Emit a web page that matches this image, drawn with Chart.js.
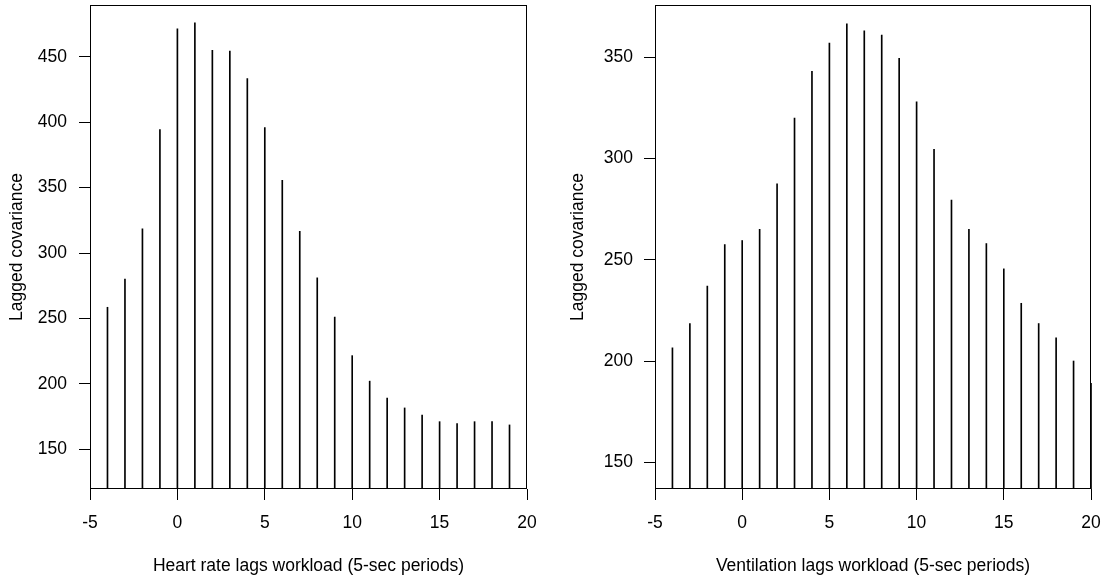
<!DOCTYPE html>
<html>
<head>
<meta charset="utf-8">
<script src="https://cdn.jsdelivr.net/npm/chart.js@4"></script>
<style>
  html, body { margin: 0; padding: 0; background: #fff; }
  .panel { position: absolute; top: 0; }
</style>
</head>
<body>
<div class="panel" style="left:0"><canvas id="graficoHR" width="556" height="584"></canvas></div>
<div class="panel" style="left:556px"><canvas id="graficoVent" width="557" height="584"></canvas></div>
<script>
// lags (5-sec periods) and lagged covariances
const lagsHR = [-4, -3, -2, -1, 0, 1, 2, 3, 4, 5, 6, 7, 8, 9, 10, 11, 12, 13, 14, 15, 16, 17, 18, 19];
const covHR = [258.5, 280, 318.5, 394.5, 471.5, 476, 455, 454.5, 433.5, 396, 355.5, 316.5,
               281, 251, 221.5, 202, 189, 181.5, 176, 171, 169.5, 171, 171, 168.5];

const lagsVent = [-4, -3, -2, -1, 0, 1, 2, 3, 4, 5, 6, 7, 8, 9, 10, 11, 12, 13, 14, 15, 16, 17, 18, 19, 20];
const covVent = [206.5, 218.5, 237, 257.5, 259.5, 265, 287.5, 320, 343, 357, 366.5, 363, 361,
                 349.5, 328, 304.5, 279.5, 265, 258, 245.5, 228.5, 218.5, 211.5, 200, 189];

const xTicks = [-5, 0, 5, 10, 15, 20];
const yTicksHR = [150, 200, 250, 300, 350, 400, 450];
const yTicksVent = [150, 200, 250, 300, 350];

const FONT = { family: "'Liberation Sans', Arial, sans-serif", size: 17.5 };

// draws the full box round the plot region
const boxPlugin = {
  id: 'box',
  afterDraw(chart) {
    const { ctx, chartArea: a } = chart;
    ctx.save();
    ctx.strokeStyle = '#000';
    ctx.lineWidth = 1;
    ctx.strokeRect(a.left + 0.5, a.top + 0.5, a.right - a.left - 1, a.bottom - a.top - 1);
    ctx.restore();
  }
};

function noPad(s) {
  s.paddingTop = 0; s.paddingBottom = 0; s.paddingLeft = 0; s.paddingRight = 0;
}

function spikeChart(id, lags, values, yMin, yMax, yTicks, xTitle, opts) {
  return new Chart(document.getElementById(id), {
    type: 'bar',
    data: {
      datasets: [{
        data: lags.map((l, i) => ({ x: l, y: values[i] })),
        base: yMin,
        backgroundColor: '#000',
        barThickness: 1,
        clip: { left: 1, right: 1, top: 0, bottom: 0 }
      }]
    },
    plugins: [boxPlugin],
    options: {
      responsive: false,
      animation: false,
      events: [],
      devicePixelRatio: 1,
      layout: { padding: { left: 0, right: opts.padRight, top: 5, bottom: 0 } },
      plugins: { legend: { display: false }, tooltip: { enabled: false } },
      scales: {
        x: {
          type: 'linear',
          min: -5,
          max: 20,
          offset: false,
          afterBuildTicks: s => { s.ticks = xTicks.map(v => ({ value: v })); },
          afterFit: s => { s.height = 95; noPad(s); },
          grid: { offset: false, drawOnChartArea: false, drawTicks: true, tickLength: 11, color: '#000' },
          border: { display: false },
          ticks: { color: '#000', font: FONT, padding: 12.5, maxRotation: 0, autoSkip: false },
          title: { display: true, text: xTitle, color: '#000', font: FONT, padding: { top: 0, bottom: 7.5 } }
        },
        y: {
          min: yMin,
          max: yMax,
          afterBuildTicks: s => { s.ticks = yTicks.map(v => ({ value: v })); },
          afterFit: s => { s.width = opts.yWidth; noPad(s); },
          grid: { drawOnChartArea: false, drawTicks: true, tickLength: 11, color: '#000' },
          border: { display: false },
          ticks: { color: '#000', font: FONT, padding: opts.yPad, autoSkip: false },
          title: { display: true, text: 'Lagged covariance', color: '#000', font: FONT,
                   padding: { top: opts.titlePad, bottom: 0 } }
        }
      }
    }
  });
}

spikeChart('graficoHR', lagsHR, covHR, 119.5, 489.7, yTicksHR,
  'Heart rate lags workload (5-sec periods)',
  { yWidth: 90, padRight: 29, yPad: 12, titlePad: 7 });

spikeChart('graficoVent', lagsVent, covVent, 136.8, 375.8, yTicksVent,
  'Ventilation lags workload (5-sec periods)',
  { yWidth: 99, padRight: 22, yPad: 11, titlePad: 11.5 });
</script>
</body>
</html>
